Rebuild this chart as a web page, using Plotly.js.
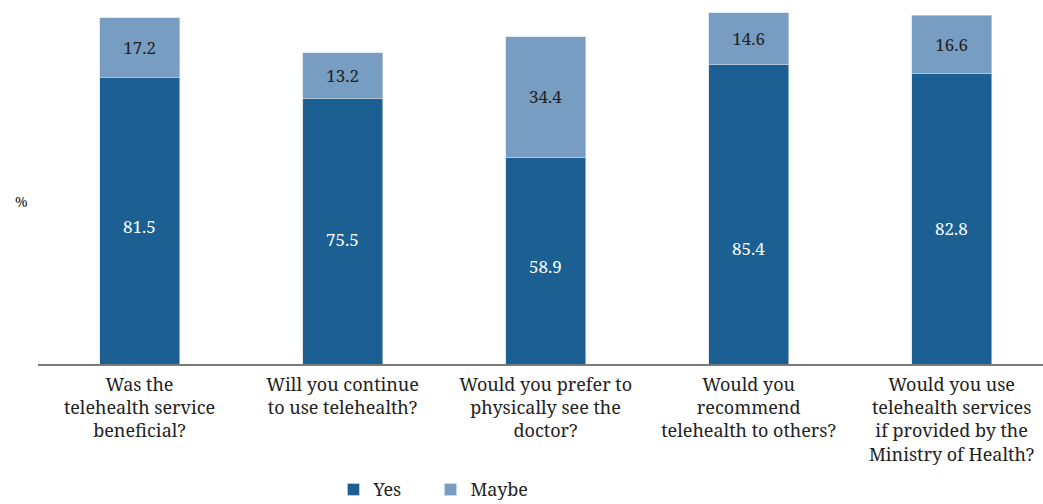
<!DOCTYPE html>
<html>
<head>
<meta charset="utf-8">
<script src="https://cdn.plot.ly/plotly-3.0.1.min.js"></script>
<style>html,body{margin:0;padding:0;background:#fff;}#chart{width:1043px;height:504px;}</style>
</head>
<body>
<div id="chart"></div>
<script>
const categories = ["Q1", "Q2", "Q3", "Q4", "Q5"];
const tickLabels = [
  "Was the<br>telehealth service<br>beneficial?",
  "Will you continue<br>to use telehealth?",
  "Would you prefer to<br>physically see the<br>doctor?",
  "Would you<br>recommend<br>telehealth to others?",
  "Would you use<br>telehealth services<br>if provided by the<br>Ministry of Health?"
];
const yesValues = [81.5, 75.5, 58.9, 85.4, 82.8];
const maybeValues = [17.2, 13.2, 34.4, 14.6, 16.6];

// pixel offsets of the "Yes" value labels (style only)
const yesLabelShift = [-6, -8, -6, -34, -10];

const FONT = "Noto Serif";
const TEXT = "#222222";

const traces = [
  {
    type: "bar", name: "Yes", x: categories, y: yesValues,
    marker: {color: "#1c6093", line: {color: "#cfdbe8", width: 0.6}},
    width: 0.394, hoverinfo: "none"
  },
  {
    type: "bar", name: "Maybe", x: categories, y: maybeValues,
    text: maybeValues.map(v => v.toFixed(1)), textposition: "inside", insidetextanchor: "middle",
    textfont: {color: TEXT, size: 17, family: FONT},
    marker: {color: "#789dc3", line: {color: "#cfdbe8", width: 0.6}},
    width: 0.394, hoverinfo: "none"
  }
];

const yesAnnotations = categories.map((c, i) => ({
  x: c, y: yesValues[i] / 2, xref: "x", yref: "y",
  text: yesValues[i].toFixed(1), showarrow: false,
  yshift: yesLabelShift[i],
  font: {family: FONT, size: 17, color: "#ffffff"}
}));

const layout = {
  width: 1043, height: 504,
  margin: {l: 38, r: 0, t: 10, b: 140, autoexpand: false},
  barmode: "stack",
  showlegend: true,
  paper_bgcolor: "#ffffff", plot_bgcolor: "#ffffff",
  font: {family: FONT, size: 18, color: TEXT},
  xaxis: {
    type: "category", range: [-0.5, 4.45], automargin: false,
    tickvals: categories, ticktext: tickLabels,
    showline: true, linecolor: "#7a7a7a", linewidth: 2,
    ticks: "", showgrid: false, zeroline: false, ticklabelstandoff: 3,
    tickfont: {family: FONT, size: 18, color: TEXT}
  },
  yaxis: {
    range: [0, 100.85], showticklabels: false, showgrid: false, automargin: false,
    zeroline: false, showline: false, ticks: ""
  },
  legend: {
    orientation: "h", x: 0.294, xanchor: "left", y: -0.303, yanchor: "top",
    font: {family: FONT, size: 18, color: TEXT},
    entrywidth: 52, entrywidthmode: "pixels", traceorder: "normal"
  },
  annotations: [{
    text: "%", xref: "paper", yref: "paper", x: -0.025, y: 0.46,
    xanchor: "left", yanchor: "middle", showarrow: false,
    font: {family: FONT, size: 14, color: TEXT}
  }].concat(yesAnnotations)
};

Plotly.newPlot("chart", traces, layout, {displayModeBar: false, staticPlot: true});
</script>
</body>
</html>
